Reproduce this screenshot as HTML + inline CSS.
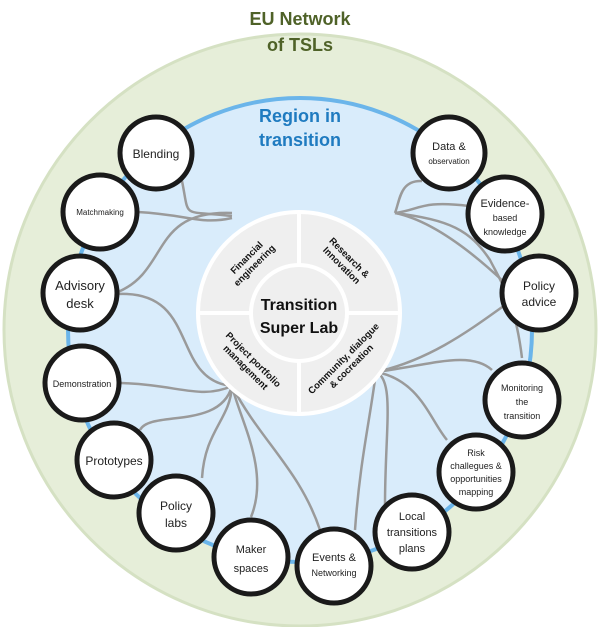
<!DOCTYPE html>
<html><head><meta charset="utf-8"><style>
html,body{margin:0;padding:0;background:#fff}
svg{display:block}
.h{font-family:"Liberation Sans",sans-serif;fill:#222;text-anchor:middle}
.b{font-family:"Liberation Sans",sans-serif;font-weight:bold;fill:#111;text-anchor:middle}
</style></head><body>
<svg width="600" height="627" viewBox="0 0 600 627" xmlns="http://www.w3.org/2000/svg">
<circle cx="300" cy="330" r="296" fill="#e6eed9" stroke="#d5e1c3" stroke-width="3"/>
<circle cx="300" cy="330" r="232" fill="#d9ecfb" stroke="#6bb5ea" stroke-width="4"/>
<text class="b" x="300" y="25" font-size="18" style="fill:#4f6228">EU Network</text>
<text class="b" x="300" y="51" font-size="18" style="fill:#4f6228">of TSLs</text>
<text class="b" x="300" y="122" font-size="18" style="fill:#1f7bc0">Region in</text>
<text class="b" x="300" y="146" font-size="18" style="fill:#1f7bc0">transition</text>
<g fill="none" stroke="#9a9a9a" stroke-width="2.5">
<path d="M182,181 C190,220 180,210 232,216"/>
<path d="M138,212 C190,215 200,225 232,218"/>
<path d="M118,292 C170,270 150,210 232,213"/>
<path d="M118,294 C200,290 170,380 232,386"/>
<path d="M120,383 C180,385 200,400 232,386"/>
<path d="M140,430 C150,410 220,430 232,386"/>
<path d="M202,478 C205,430 230,420 232,386"/>
<path d="M251,517 C270,470 240,420 232,386"/>
<path d="M232,386 C260,440 300,470 320,530"/>
<path d="M422,181 C400,180 400,200 395,213"/>
<path d="M469,206 C420,200 420,210 395,213"/>
<path d="M505,283 C470,250 430,220 395,213"/>
<path d="M395,213 C450,220 470,230 490,260 C500,280 515,300 522,358"/>
<path d="M376,372 C430,360 470,330 505,305"/>
<path d="M376,372 C430,365 470,350 492,370"/>
<path d="M376,372 C420,380 430,420 447,440"/>
<path d="M376,372 C395,380 385,430 385,505"/>
<path d="M376,372 C370,420 360,460 355,530"/>
</g>
<circle cx="299" cy="313" r="101" fill="#efefef" stroke="#fff" stroke-width="4"/>
<g stroke="#fff" stroke-width="4"><line x1="198" y1="313" x2="400" y2="313"/><line x1="299" y1="212" x2="299" y2="414"/></g>
<circle cx="299" cy="313" r="48" fill="#efefef" stroke="#fff" stroke-width="4"/>
<text class="b" x="299" y="310" font-size="16">Transition</text>
<text class="b" x="299" y="333" font-size="16">Super Lab</text>
<g font-size="9.5">
<g transform="translate(251,262) rotate(-45)"><text class="b" y="-3">Financial</text><text class="b" y="8">engineering</text></g>
<g transform="translate(345,262) rotate(45)"><text class="b" y="-3">Research &amp;</text><text class="b" y="8">Innovation</text></g>
<g transform="translate(249,364) rotate(45)"><text class="b" y="-3">Project portfolio</text><text class="b" y="8">management</text></g>
<g transform="translate(350,365) rotate(-45)"><text class="b" y="-6">Community, dialogue</text><text class="b" y="5">&amp; cocreation</text></g>
</g>
<g fill="#fff" stroke="#1a1a1a" stroke-width="5">
<circle cx="156" cy="153" r="36"/><circle cx="100" cy="212" r="37"/><circle cx="80" cy="293" r="37"/>
<circle cx="82" cy="383" r="37"/><circle cx="114" cy="460" r="37"/><circle cx="176" cy="513" r="37"/>
<circle cx="251" cy="557" r="37"/><circle cx="334" cy="566" r="37"/><circle cx="412" cy="532" r="37"/>
<circle cx="476" cy="472" r="37"/><circle cx="522" cy="400" r="37"/><circle cx="539" cy="293" r="37"/>
<circle cx="505" cy="214" r="37"/><circle cx="449" cy="153" r="36"/>
</g>
<g>
<text class="h" x="156" y="158" font-size="12">Blending</text>
<text class="h" x="100" y="215" font-size="8">Matchmaking</text>
<text class="h" x="80" y="290" font-size="13">Advisory</text><text class="h" x="80" y="308" font-size="13">desk</text>
<text class="h" x="82" y="387" font-size="9">Demonstration</text>
<text class="h" x="114" y="465" font-size="12">Prototypes</text>
<text class="h" x="176" y="510" font-size="12">Policy</text><text class="h" x="176" y="527" font-size="12">labs</text>
<text class="h" x="251" y="553" font-size="11">Maker</text><text class="h" x="251" y="572" font-size="11">spaces</text>
<text class="h" x="334" y="561" font-size="11">Events &amp;</text><text class="h" x="334" y="576" font-size="9">Networking</text>
<text class="h" x="412" y="520" font-size="11">Local</text><text class="h" x="412" y="536" font-size="11">transitions</text><text class="h" x="412" y="552" font-size="11">plans</text>
<text class="h" x="476" y="456" font-size="9">Risk</text><text class="h" x="476" y="469" font-size="9">challegues &amp;</text><text class="h" x="476" y="482" font-size="9">opportunities</text><text class="h" x="476" y="495" font-size="9">mapping</text>
<text class="h" x="522" y="391" font-size="9">Monitoring</text><text class="h" x="522" y="405" font-size="9">the</text><text class="h" x="522" y="419" font-size="9">transition</text>
<text class="h" x="539" y="290" font-size="12">Policy</text><text class="h" x="539" y="306" font-size="12">advice</text>
<text class="h" x="505" y="207" font-size="11">Evidence-</text><text class="h" x="505" y="221" font-size="9">based</text><text class="h" x="505" y="235" font-size="9">knowledge</text>
<text class="h" x="449" y="150" font-size="11">Data &amp;</text><text class="h" x="449" y="164" font-size="8">observation</text>
</g>
</svg>
</body></html>
